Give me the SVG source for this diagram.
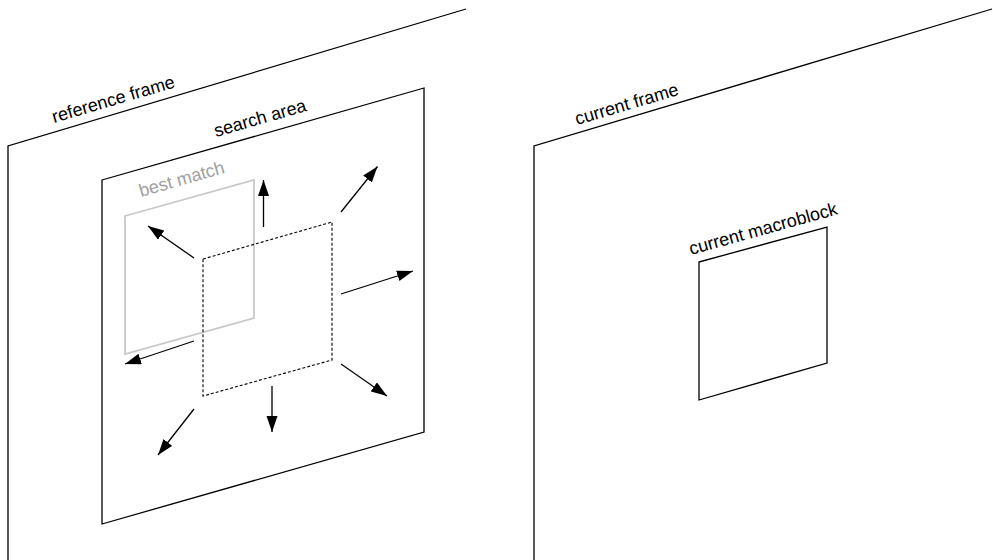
<svg xmlns="http://www.w3.org/2000/svg" width="993" height="560" viewBox="0 0 993 560">
<defs>
<marker id="ah" markerWidth="17" markerHeight="12" refX="16" refY="5.5" orient="auto" markerUnits="userSpaceOnUse">
<path d="M0,0 L16,5.5 L0,11 Z" fill="#000"/>
</marker>
<style>
.ln{fill:none;stroke:#000;stroke-width:1.3}
.gr{fill:none;stroke:#c8c8c8;stroke-width:1.8}
.ds{fill:none;stroke:#000;stroke-width:1.1;stroke-dasharray:3,2}
.ar{fill:none;stroke:#000;stroke-width:1.3;marker-end:url(#ah)}
.t{font-family:"Liberation Sans",Arial,sans-serif;font-size:18px;fill:#000}
.tg{font-family:"Liberation Sans",Arial,sans-serif;font-size:18px;fill:#a0a0a0}
</style>
</defs>
<rect width="993" height="560" fill="#fff"/>
<g id="reference-frame">
<polyline class="ln" points="8,560 8,146 466,9"/>
<text class="t" transform="translate(54,123) rotate(-16.4)">reference frame</text>
</g>
<g id="search-area">
<polygon class="ln" points="102,180 424,88 424,432 102,524"/>
<text class="t" transform="translate(216,137) rotate(-16)">search area</text>
</g>
<g id="best-match">
<polygon class="gr" points="125,216 254,180 254,318 125,354"/>
<text class="tg" transform="translate(141,197) rotate(-16)">best match</text>
</g>
<g id="candidate-block">
<polygon class="ds" points="203,259 332,222 332,360 203,396"/>
</g>
<g id="connectors">
<line class="ar" x1="263.5" y1="227" x2="263.5" y2="180"/>
<line class="ar" x1="194" y1="258" x2="148" y2="226"/>
<line class="ar" x1="341" y1="212" x2="377.5" y2="166.5"/>
<line class="ar" x1="341" y1="294" x2="413" y2="271"/>
<line class="ar" x1="194" y1="341" x2="125" y2="364"/>
<line class="ar" x1="341" y1="364" x2="387" y2="396"/>
<line class="ar" x1="272" y1="386" x2="272" y2="432"/>
<line class="ar" x1="194" y1="409" x2="158" y2="455"/>
</g>
<g id="current-frame">
<polyline class="ln" points="534,560 534,146 992,9"/>
<text class="t" transform="translate(577,125) rotate(-16.4)">current frame</text>
</g>
<g id="current-macroblock">
<polygon class="ln" points="699,262 827,227 827,363 699,400"/>
<text class="t" transform="translate(691,255) rotate(-15.5)">current macroblock</text>
</g>
</svg>
